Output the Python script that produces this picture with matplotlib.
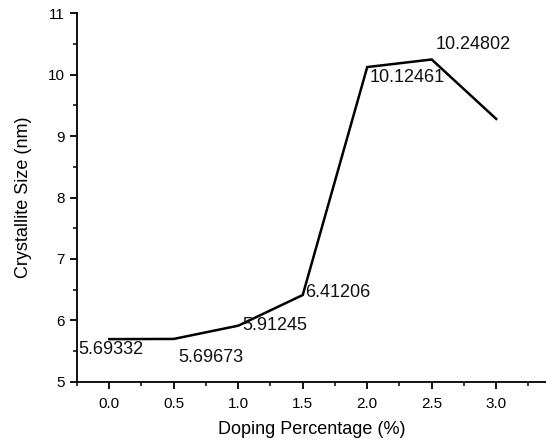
import matplotlib
matplotlib.use("Agg")
import matplotlib.pyplot as plt
from matplotlib.ticker import MultipleLocator

plt.rcParams['font.family'] = ['Liberation Sans', 'DejaVu Sans']

doping = [0.0, 0.5, 1.0, 1.5, 2.0, 2.5, 3.0]
size_nm = [5.69332, 5.69673, 5.91245, 6.41206, 10.12461, 10.24802, 9.28]
labels = ["5.69332", "5.69673", "5.91245", "6.41206", "10.12461", "10.24802"]
# label anchor (left edge, vertical centre) in data units
label_pos = [(-0.24, 5.52), (0.535, 5.40), (1.03, 5.91), (1.52, 6.445),
             (2.02, 9.96), (2.527, 10.50)]

fig = plt.figure(figsize=(5.46, 4.44), dpi=100)
ax = fig.add_axes([77/546, 0.1403, 1 - 77/546, 0.8297])

ax.plot(doping, size_nm, color='black', lw=1.8, solid_joinstyle='miter')
for t, (x, y) in zip(labels, label_pos):
    ax.text(x, y, t, ha='left', va='center', fontsize=13, color='#111111')

ax.set_xlim(-0.25, 3.386)
ax.set_ylim(5, 11)
ax.spines['top'].set_visible(False)
ax.spines['right'].set_visible(False)
for s in ('left', 'bottom'):
    ax.spines[s].set_linewidth(1.3)

ax.xaxis.set_major_locator(MultipleLocator(0.5))
ax.xaxis.set_minor_locator(MultipleLocator(0.25))
ax.yaxis.set_major_locator(MultipleLocator(1))
ax.yaxis.set_minor_locator(MultipleLocator(0.5))
ax.xaxis.set_major_formatter(matplotlib.ticker.FormatStrFormatter('%.1f'))
ax.tick_params(which='major', length=5, width=1.3, labelsize=11, pad=6)
ax.tick_params(which='minor', length=3, width=1.1)
ax.tick_params(axis='y', which='major', pad=4)

ax.set_xlabel('Doping Percentage (%)', fontsize=13, labelpad=7)
ax.set_ylabel('Crystallite Size (nm)', fontsize=13, labelpad=11)

fig.savefig('out.png', dpi=100)
